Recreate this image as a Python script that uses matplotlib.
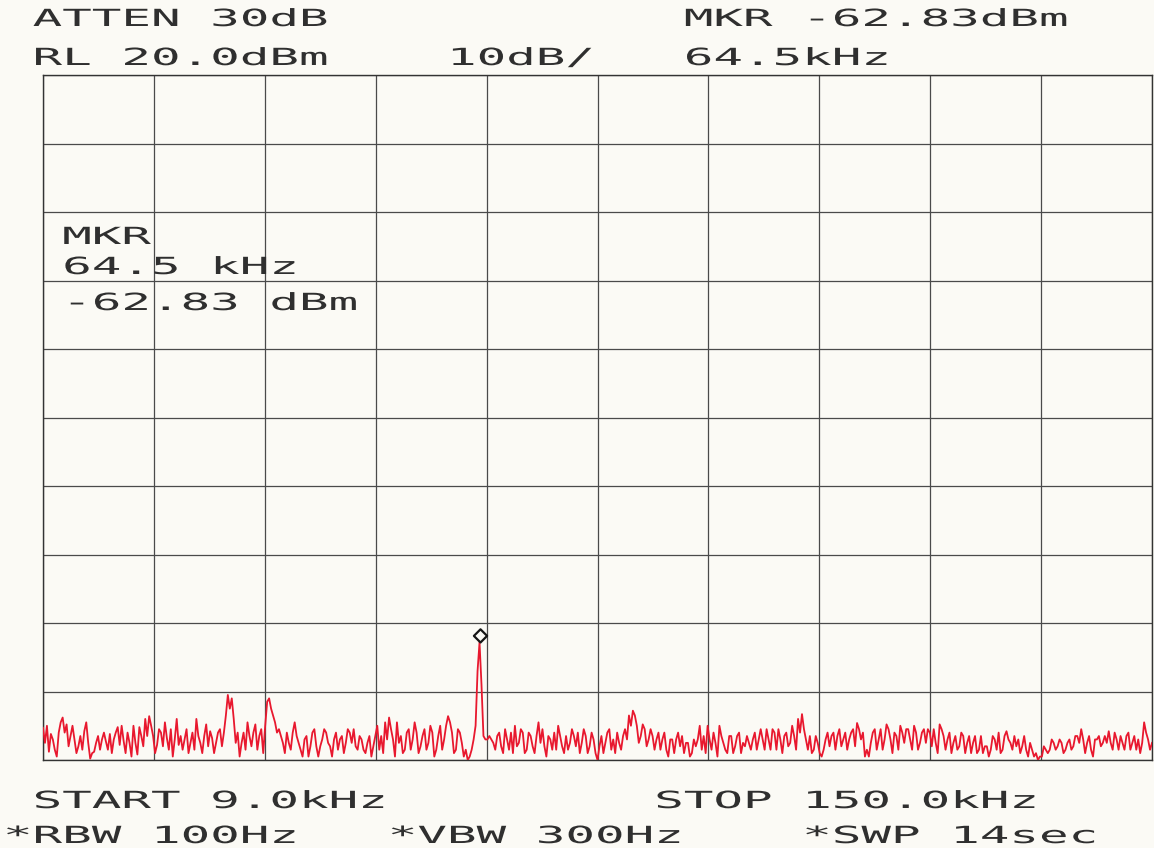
import numpy as np
import matplotlib
matplotlib.use("Agg")
import matplotlib.pyplot as plt
from matplotlib import patheffects
from matplotlib.transforms import Affine2D
from matplotlib.path import Path

# ---------------- data ----------------
start_khz = 9.0
stop_khz = 150.0
ref_level_dbm = 20.0
db_per_div = 10.0
marker_khz = 64.5
marker_dbm = -62.83

# trace samples, 0.25 kHz apart, from START to STOP
trace_dbm = [
    -75.3, -77.5, -75.0, -78.8, -76.2, -77.0, -78.5, -79.5, -76.0, -74.5, -73.8, -76.0, -74.8, -78.0, -76.5, -75.0, -77.0, -79.0, -78.0, -76.5,
    -78.5, -75.8, -74.5, -77.5, -79.8, -79.0, -78.8, -77.5, -76.5, -78.5, -77.0, -76.0, -77.3, -78.5, -76.2, -79.0, -77.0, -76.0, -75.2, -77.8,
    -75.0, -77.2, -79.0, -76.0, -77.5, -79.5, -75.0, -77.5, -79.2, -75.2, -76.5, -78.0, -74.0, -76.5, -73.6, -75.0, -76.5, -79.0, -77.8, -75.5,
    -76.0, -78.0, -74.5, -76.8, -78.5, -75.5, -79.5, -77.0, -74.0, -77.8, -76.5, -78.5, -77.0, -75.5, -79.0, -77.5, -76.0, -78.5, -74.0, -76.5,
    -77.5, -79.0, -76.5, -74.8, -78.0, -75.8, -76.8, -79.0, -77.5, -76.0, -75.5, -78.0, -76.0, -73.5, -70.5, -72.5, -71.0, -74.0, -77.5, -76.0,
    -79.5, -77.5, -76.0, -78.5, -74.5, -76.5, -78.0, -76.0, -74.8, -78.5, -76.5, -75.5, -79.0, -75.0, -71.5, -71.0, -72.5, -73.5, -74.5, -76.0,
    -75.5, -76.5, -77.5, -79.0, -76.0, -77.5, -78.5, -76.0, -74.5, -76.5, -77.5, -78.5, -79.5, -77.0, -76.5, -79.5, -78.0, -76.0, -75.5, -78.0,
    -79.5, -78.0, -77.0, -75.5, -76.0, -77.5, -78.0, -79.5, -77.0, -76.0, -78.5, -77.0, -76.5, -79.0, -77.5, -75.5, -76.0, -77.5, -75.5, -78.0,
    -78.5, -76.5, -77.0, -78.5, -79.0, -77.5, -76.5, -79.5, -78.0, -76.5, -75.0, -78.5, -76.5, -79.0, -74.5, -77.0, -73.8, -75.5, -77.0, -79.5,
    -74.5, -77.5, -76.5, -79.0, -78.5, -76.0, -75.5, -78.5, -77.0, -74.5, -76.0, -79.0, -78.0, -76.5, -75.5, -78.5, -77.5, -75.0, -76.0, -79.5,
    -78.5, -76.5, -75.0, -78.5, -77.0, -75.0, -73.6, -74.5, -76.0, -79.0, -78.5, -75.5, -76.0, -77.5, -79.5, -78.5, -80.0, -79.5, -78.5, -77.0,
    -75.0, -67.0, -62.83, -69.0, -76.5, -77.0, -77.0, -76.5, -77.0, -77.5, -78.5, -76.5, -76.0, -78.0, -79.0, -75.5, -77.0, -78.5, -76.0, -79.0,
    -75.0, -78.0, -77.5, -75.5, -76.0, -79.0, -78.5, -76.0, -76.5, -78.0, -79.0, -76.5, -74.5, -77.5, -75.5, -78.0, -79.5, -76.5, -77.0, -78.5,
    -76.0, -78.5, -75.0, -76.5, -78.0, -79.0, -76.5, -78.5, -77.5, -75.5, -76.5, -78.0, -76.0, -79.0, -77.5, -75.5, -76.5, -79.0, -78.0, -76.0,
    -77.0, -79.0, -80.0, -78.0, -76.5, -79.0, -77.5, -76.0, -75.5, -78.5, -77.0, -79.0, -76.0, -77.5, -78.5, -76.5, -75.5, -77.0, -73.5, -75.0,
    -72.8, -73.5, -75.0, -77.5, -76.5, -74.8, -75.5, -78.0, -77.0, -75.5, -76.5, -78.5, -77.0, -76.0, -78.5, -77.0, -76.0, -78.5, -79.5, -77.0,
    -77.0, -79.0, -77.0, -76.0, -78.0, -76.5, -79.0, -77.5, -77.5, -79.5, -79.0, -77.0, -78.0, -77.0, -75.0, -78.5, -76.5, -79.0, -75.0, -77.0,
    -78.5, -76.0, -77.5, -79.5, -75.0, -76.5, -77.5, -78.5, -79.0, -76.5, -76.5, -79.0, -78.0, -76.5, -76.0, -79.0, -77.5, -78.0, -76.5, -77.5,
    -78.5, -77.0, -76.0, -78.5, -77.0, -75.5, -77.0, -78.5, -75.5, -77.0, -78.5, -75.5, -76.0, -78.5, -75.5, -77.0, -79.0, -76.5, -76.0, -78.0,
    -77.5, -75.0, -76.5, -78.5, -74.0, -76.0, -73.3, -75.5, -77.0, -78.5, -76.5, -79.0, -78.5, -76.5, -77.5, -79.0, -79.5, -78.5, -77.0, -76.0,
    -78.0, -76.5, -76.0, -78.5, -76.5, -75.5, -78.0, -77.0, -76.0, -78.5, -77.0, -76.0, -75.5, -78.0, -74.6, -75.5, -77.0, -76.0, -79.5, -78.5,
    -79.5, -77.5, -76.0, -75.5, -78.5, -77.0, -75.5, -78.5, -77.0, -74.8, -75.5, -77.0, -79.0, -76.0, -76.5, -78.5, -75.0, -76.0, -77.5, -75.5,
    -75.5, -77.0, -78.5, -75.0, -76.0, -78.5, -77.5, -76.0, -75.5, -77.5, -75.5, -76.0, -78.0, -75.5, -77.5, -79.0, -74.8, -75.5, -76.5, -78.5,
    -77.0, -76.0, -79.0, -77.5, -76.5, -78.5, -78.0, -76.0, -76.5, -79.0, -77.5, -76.5, -79.0, -77.5, -76.5, -79.0, -78.5, -76.5, -79.0, -78.0,
    -78.0, -79.5, -78.5, -76.5, -77.0, -78.5, -76.0, -79.0, -78.5, -76.5, -75.8, -77.0, -77.5, -78.5, -76.5, -78.0, -77.0, -79.0, -78.0, -76.5,
    -78.5, -79.5, -77.5, -78.5, -79.5, -79.0, -80.0, -79.5, -79.5, -78.0, -78.5, -79.0, -78.5, -77.0, -77.5, -78.5, -78.0, -77.0, -77.5, -79.0,
    -78.5, -77.5, -77.0, -78.5, -78.0, -76.5, -76.5, -77.5, -75.5, -77.0, -79.0, -77.5, -76.5, -78.5, -79.5, -77.0, -77.0, -76.5, -78.0, -77.5,
    -76.5, -77.5, -75.8, -77.5, -78.5, -76.0, -77.0, -78.5, -76.5, -77.5, -78.5, -76.5, -76.0, -78.5, -77.5, -76.5, -78.5, -77.0, -79.0, -77.5,
    -74.5, -76.0, -77.0, -78.5, -77.5,
]

header_left = ["ATTEN 30dB", "RL 20.0dBm"]
header_mid = "10dB/"
header_right = ["MKR -62.83dBm", "64.5kHz"]
marker_box = ["MKR", "64.5 kHz", "-62.83 dBm"]
footer_top = ["START 9.0kHz", "STOP 150.0kHz"]
footer_bottom = ["*RBW 100Hz", "*VBW 300Hz", "*SWP 14sec"]

# ---------------- styling ----------------
W, H = 1154, 848
PAPER = "#fbfaf5"
INK = "#2f2f2f"
GRID = "#4a4a4a"
TRACE = "#e8182e"

fig = plt.figure(figsize=(W / 100, H / 100), dpi=100, facecolor=PAPER)
ax = fig.add_axes([43 / W, 88 / H, 1109 / W, 685 / H], facecolor=PAPER)

n_div = 10
freq_khz = np.linspace(start_khz, stop_khz, len(trace_dbm))
bottom_dbm = ref_level_dbm - n_div * db_per_div

ax.set_xlim(start_khz, stop_khz)
ax.set_ylim(bottom_dbm, ref_level_dbm)
ax.set_xticks(np.linspace(start_khz, stop_khz, n_div + 1))
ax.set_yticks(np.linspace(bottom_dbm, ref_level_dbm, n_div + 1))
ax.tick_params(length=0, labelbottom=False, labelleft=False)
ax.grid(True, color=GRID, linewidth=0.9)
ax.set_axisbelow(True)
for sp in ax.spines.values():
    sp.set_color("#333333")
    sp.set_linewidth(1.0)

ax.plot(freq_khz, trace_dbm, color=TRACE, linewidth=1.3, clip_on=True, zorder=3)

diamond = Path([(0, 0), (0.5, 0.5), (0, 1), (-0.5, 0.5), (0, 0)],
               [Path.MOVETO, Path.LINETO, Path.LINETO, Path.LINETO, Path.CLOSEPOLY])
ax.plot([marker_khz], [marker_dbm], linestyle="none", marker=diamond, markersize=19,
        markerfacecolor="none", markeredgecolor="#151515", markeredgewidth=1.6, zorder=4)


# ---------------- plotter-style text ----------------
class HStretch(patheffects.AbstractPathEffect):
    """Stretch glyphs horizontally (plotter fonts are very wide)."""

    def __init__(self, sx):
        super().__init__()
        self.sx = sx

    def draw_path(self, renderer, gc, tpath, affine, rgbFace=None):
        renderer.draw_path(gc, tpath, Affine2D().scale(self.sx, 1.0) + affine, rgbFace)


FS_PT = 17.0
fs_px = FS_PT * 100 / 72
PITCH = 29.6
SX = PITCH / (0.60205 * fs_px)
COL0 = 3.0


def ptext(col, baseline_px, s):
    x = COL0 + col * PITCH
    fig.text(x / W, 1 - baseline_px / H, s, ha="left", va="baseline",
             family="DejaVu Sans Mono", fontsize=FS_PT, color=INK,
             path_effects=[HStretch(SX)])


ptext(1, 26, header_left[0])
ptext(1, 65, header_left[1])
ptext(15, 65, header_mid)
ptext(23, 26, header_right[0])
ptext(23, 65, header_right[1])

ptext(2, 244, marker_box[0])
ptext(2, 274, marker_box[1])
ptext(2, 310, marker_box[2])

ptext(1, 808, footer_top[0])
ptext(22, 808, footer_top[1])
ptext(0, 843, footer_bottom[0])
ptext(13, 843, footer_bottom[1])
ptext(27, 843, footer_bottom[2])

fig.savefig("out.png", dpi=100, facecolor=PAPER)
